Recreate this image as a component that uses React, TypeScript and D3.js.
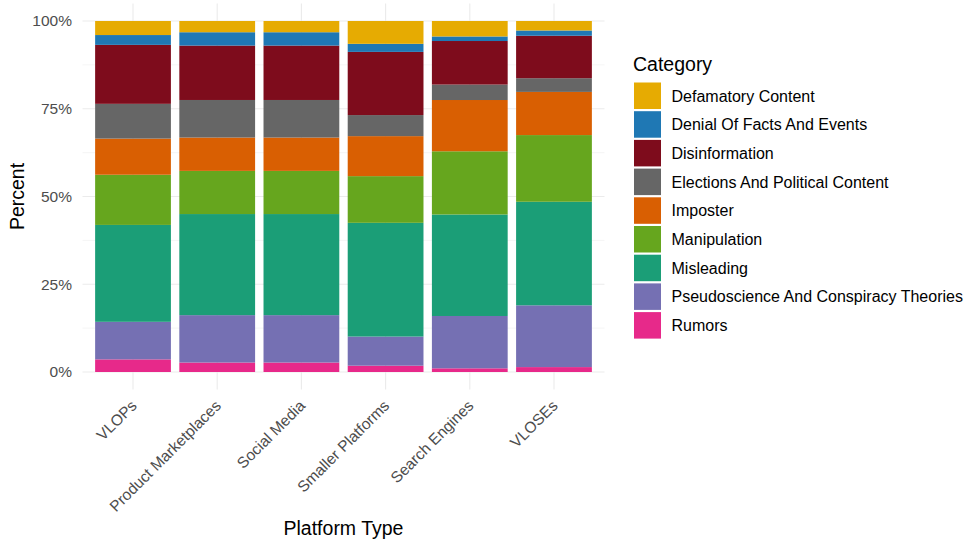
import React from "react";
import * as d3 from "d3";

const platforms = ["VLOPs", "Product Marketplaces", "Social Media", "Smaller Platforms", "Search Engines", "VLOSEs"];
const categories = [
  "Defamatory Content",
  "Denial Of Facts And Events",
  "Disinformation",
  "Elections And Political Content",
  "Imposter",
  "Manipulation",
  "Misleading",
  "Pseudoscience And Conspiracy Theories",
  "Rumors",
];
const colors = ["#E6AB02", "#1F78B4", "#7E0C1C", "#666666", "#D95F02", "#66A61E", "#1B9E77", "#7570B3", "#E7298A"];

// share (%) per platform, one array per category
const defamatory = [4.0, 3.2, 3.2, 6.5, 4.4, 2.7];
const denial = [2.8, 3.8, 3.8, 2.3, 1.3, 1.5];
const disinformation = [16.8, 15.5, 15.5, 18.0, 12.4, 12.1];
const elections = [9.9, 10.7, 10.7, 6.0, 4.4, 3.9];
const imposter = [10.3, 9.5, 9.5, 11.4, 14.6, 12.3];
const manipulation = [14.3, 12.3, 12.3, 13.3, 18.0, 19.0];
const misleading = [27.6, 28.8, 28.8, 32.4, 28.9, 29.5];
const pseudoscience = [10.7, 13.5, 13.5, 8.3, 14.9, 17.6];
const rumors = [3.6, 2.7, 2.7, 1.8, 1.05, 1.4];

const seriesValues = [defamatory, denial, disinformation, elections, imposter, manipulation, misleading, pseudoscience, rumors];
const yTicks = [0, 0.25, 0.5, 0.75, 1];
const yMinor = [0.125, 0.375, 0.625, 0.875];

const FONT = "Liberation Sans, Arial, sans-serif";

export default function App() {
  const W = 966, H = 541;
  const left = 82.5, right = 604.5;
  const y0 = 372, y1 = 21;

  const x = d3.scaleBand<string>().domain(platforms).range([left, right]).paddingInner(0.1).paddingOuter(0.15);
  const y = d3.scaleLinear().domain([0, 1]).range([y0, y1]);
  const panelTop = y(1.05), panelBottom = y(-0.05);

  const rows = platforms.map((p, i) => {
    const r: any = { platform: p };
    const total = d3.sum(seriesValues, (s) => s[i]);
    categories.forEach((c, k) => (r[c] = seriesValues[k][i] / total));
    return r;
  });
  const stackOrder = categories.slice().reverse();
  const stacked = d3.stack<any>().keys(stackOrder)(rows);
  const color = d3.scaleOrdinal<string, string>().domain(categories).range(colors);

  return (
    <svg width={W} height={H} style={{ position: "absolute", left: 0, top: 0, background: "#fff" }} fontFamily={FONT}>
      {yMinor.map((t) => (
        <line key={"mn" + t} x1={left} x2={right} y1={y(t)} y2={y(t)} stroke="#f2f2f2" strokeWidth={0.8} />
      ))}
      {yTicks.map((t) => (
        <line key={"mj" + t} x1={left} x2={right} y1={y(t)} y2={y(t)} stroke="#ebebeb" strokeWidth={1.1} />
      ))}
      {platforms.map((p) => {
        const cx = (x(p) as number) + x.bandwidth() / 2;
        return <line key={"vg" + p} x1={cx} x2={cx} y1={panelTop} y2={panelBottom} stroke="#ebebeb" strokeWidth={1.1} />;
      })}
      {stacked.map((layer) => (
        <g key={layer.key} fill={color(layer.key)}>
          {layer.map((d, i) => (
            <rect key={i} x={x(platforms[i])} width={x.bandwidth()} y={y(d[1])} height={y(d[0]) - y(d[1])} />
          ))}
        </g>
      ))}
      {yTicks.map((t) => (
        <text key={"yl" + t} x={72} y={y(t)} dy="0.35em" textAnchor="end" fontSize={15.5} fill="#4d4d4d">
          {d3.format(".0%")(t)}
        </text>
      ))}
      <text transform={`translate(24,${(y0 + y1) / 2}) rotate(-90)`} textAnchor="middle" fontSize={19.5} fill="#000">
        Percent
      </text>
      {platforms.map((p) => {
        const cx = (x(p) as number) + x.bandwidth() / 2;
        return (
          <text key={"xl" + p} transform={`translate(${cx - 3},${399}) rotate(-45)`} textAnchor="end" dy="0.7em" fontSize={15.5} fill="#4d4d4d">
            {p}
          </text>
        );
      })}
      <text x={(left + right) / 2} y={535} textAnchor="middle" fontSize={19.5} fill="#000">
        Platform Type
      </text>
      <text x={633} y={71} fontSize={19.5} fill="#000">Category</text>
      {categories.map((c, i) => (
        <g key={"lg" + c} transform={`translate(634,${82.5 + i * 28.7})`}>
          <rect width={27} height={26.5} fill={color(c)} />
          <text x={37.5} y={13.5} dy="0.35em" fontSize={16} fill="#000">{c}</text>
        </g>
      ))}
    </svg>
  );
}
